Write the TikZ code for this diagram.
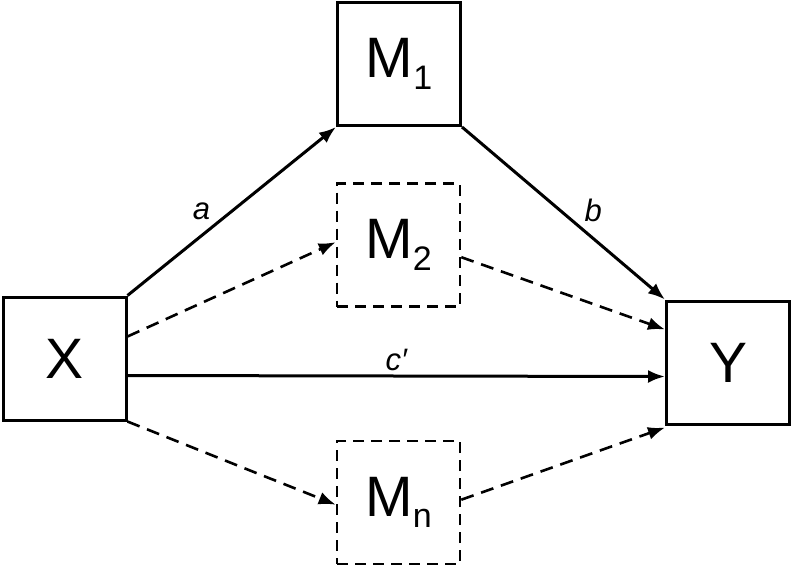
\documentclass[tikz,border=0pt]{standalone}
\usepackage{fontspec}
\setmainfont{Liberation Sans}
\usetikzlibrary{arrows.meta}
\newcommand{\subtx}[1]{\raisebox{-0.2em}{\fontsize{34}{36}\selectfont #1}}
\begin{document}
\begin{tikzpicture}[x=1pt,y=-1pt,
  box/.style={draw,line width=3pt,minimum width=123pt,minimum height=123pt,inner sep=0pt,font=\fontsize{57}{60}\selectfont},
  dbox/.style={box,line width=2.6pt,dash pattern=on 11pt off 7pt},
  arr/.style={line width=3pt,-{Latex[length=17pt,width=13pt]}},
  darr/.style={arr,line width=2.6pt,dash pattern=on 13pt off 8pt},
  lab/.style={font=\fontsize{31}{34}\selectfont\itshape}]
\useasboundingbox (0,0) rectangle (792,570);
\node[box] (X) at (64.5,358.5) {X};
\node[box] (M1) at (399,64) {M\subtx{1}};
\node[dbox] (M2) at (398.5,245) {M\subtx{2}};
\node[box] (Y) at (728,362.5) {Y};
\node[dbox] (Mn) at (398.5,502.5) {M\subtx{n}};
\draw[arr] (X.north east) -- (M1.south west) node[lab,pos=0.42,above left=0pt] {a};
\draw[arr] (M1.south east) -- (Y.north west) node[lab,pos=0.58,above right=0pt] {b};
\draw[darr] ([yshift=-41pt]X.north east) -- ([yshift=-60pt]M2.north west);
\draw[darr] ([yshift=-75pt]M2.north east) -- ([yshift=-30pt]Y.north west);
\draw[arr] ([yshift=-80pt]X.north east) -- ([yshift=-77pt]Y.north west) node[lab,pos=0.5,above=0pt] {c′};
\draw[darr] (X.south east) -- ([yshift=-65pt]Mn.north west);
\draw[darr] ([yshift=-60pt]Mn.north east) -- ([yshift=-2pt]Y.south west);
\end{tikzpicture}
\end{document}
